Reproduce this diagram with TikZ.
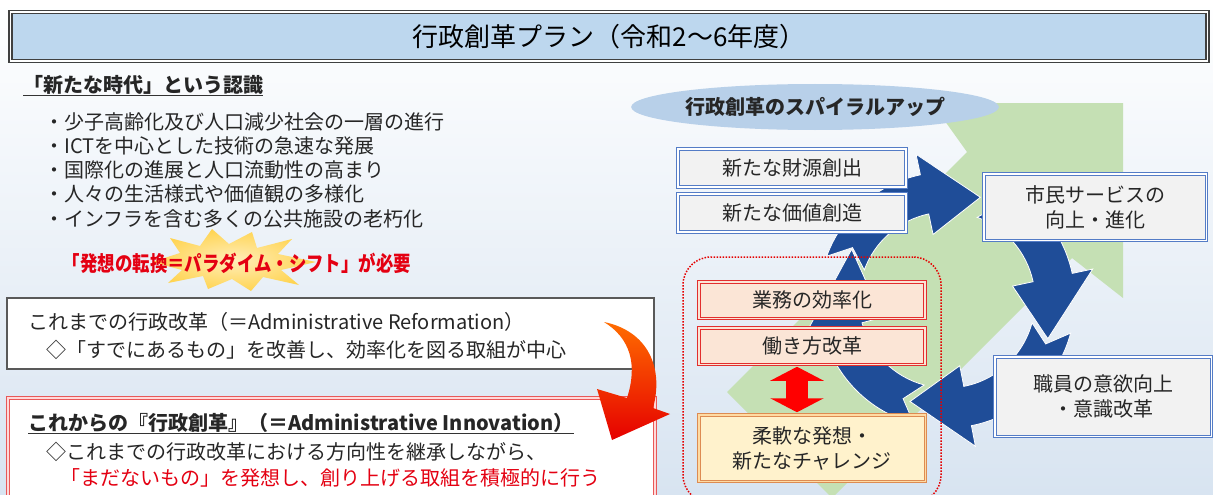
\documentclass[tikz,border=0pt]{standalone}
\usepackage{fontspec}
\setmainfont{Noto Sans CJK JP}
\usepackage{graphicx}
\usetikzlibrary{calc,arrows.meta,shapes.geometric}

\definecolor{titleblue}{RGB}{189,215,238}
\definecolor{ovalblue}{RGB}{184,208,233}
\definecolor{leafgreen}{RGB}{197,224,180}
\definecolor{spiralblue}{RGB}{31,77,152}
\definecolor{boxgray}{RGB}{242,242,242}
\definecolor{boxline}{RGB}{84,124,198}
\definecolor{pinkfill}{RGB}{251,229,214}
\definecolor{redline}{RGB}{226,46,46}
\definecolor{creamfill}{RGB}{255,242,204}
\definecolor{orangeline}{RGB}{221,139,82}
\definecolor{textred}{RGB}{228,0,18}
\definecolor{bgblue}{RGB}{216,228,241}
\definecolor{burst}{RGB}{255,212,82}

\newcommand{\jp}{\fontsize{20pt}{25pt}\selectfont}

\tikzset{
  graybox/.style={draw=boxline, line width=1pt, double=white, double distance=1.5pt,
    fill=boxgray, minimum width=228pt, minimum height=38pt, align=center},
  redbox/.style={draw=redline, line width=1pt, double=pinkfill, double distance=1.5pt,
    fill=pinkfill, minimum width=226pt, minimum height=36.5pt},
  creambox/.style={draw=orangeline, line width=1pt, double=creamfill!80!orange, double distance=1.5pt,
    fill=creamfill, minimum width=226.5pt, minimum height=66.5pt, align=center},
  spiral/.style={fill=spiralblue, draw=white, line width=0.8pt},
  uline/.style={black!80, line width=1pt}
}

\newcommand{\spiralarrow}[3]{%
  \filldraw[spiral] ($(sc)+(#1:128)$) arc[start angle=#1, end angle=#2, radius=128]
    -- ($(sc)+(#2:149)$) -- ($(sc)+(#3:108)$) -- ($(sc)+(#2:67)$) -- ($(sc)+(#2:88)$)
    arc[start angle=#2, end angle=#1, radius=88] -- ($(sc)+(#1+9:108)$) -- cycle;}

\begin{document}
\begin{tikzpicture}[x=1pt,y=-1pt,
  every node/.style={inner sep=0pt, font=\jp, text=black!85}]
\useasboundingbox (0,0) rectangle (1213,495);
\clip (0,0) rectangle (1213,495);
\shade[top color=white, bottom color=bgblue] (0,0) rectangle (1213,495);

\node[draw=black!75, line width=1.4pt, double=white, double distance=1.5pt, fill=titleblue,
  minimum width=1197pt, minimum height=49pt, font=\fontsize{26pt}{30pt}\selectfont, text=black]
  (title) at (609,36.5) {行政創革プラン（令和2〜6年度）};

% left side
\node[anchor=west, font=\jp\bfseries] (era) at (23,85) {「新たな時代」という認識};
\draw[uline] ([yshift=-1pt]era.south west) -- ([yshift=-1pt]era.south east);

\node[anchor=west] (b1) at (44,122) {・少子高齢化及び人口減少社会の一層の進行};
\node[anchor=west] (b2) at (44,146) {・ICTを中心とした技術の急速な発展};
\node[anchor=west] (b3) at (44,170) {・国際化の進展と人口流動性の高まり};
\node[anchor=west] (b4) at (44,194) {・人々の生活様式や価値観の多様化};
\node[anchor=west] (b5) at (44,219) {・インフラを含む多くの公共施設の老朽化};

\shade[inner color=burst!40, outer color=burst] (152,262) -- (180,253) -- (170,238) -- (200,246)
  -- (212,229) -- (229,244) -- (252,232) -- (257,248) -- (292,239) -- (278,254) -- (316,262)
  -- (281,270) -- (299,285) -- (263,277) -- (251,291) -- (232,279) -- (208,289) -- (203,276)
  -- (168,283) -- (182,270) -- cycle;
\node[font=\fontsize{21pt}{24pt}\selectfont\bfseries, text=textred] (shift) at (237,263)
  {\scalebox{0.83}[1]{「発想の転換＝パラダイム・シフト」が必要}};

\node[draw=black!65, line width=1.5pt, fill=white, minimum width=647pt, minimum height=71pt]
  (old) at (330.5,333.5) {};
\node[anchor=west] (oldhead) at (28,322) {これまでの行政改革（＝Administrative Reformation）};
\node[anchor=west] (oldtext) at (46,350) {◇「すでにあるもの」を改善し、効率化を図る取組が中心};

\node[draw=redline!80, line width=1pt, double=red!15, double distance=1.5pt, fill=white,
  minimum width=647pt, minimum height=116pt] (new) at (331.5,456) {};
\node[anchor=west, font=\jp\bfseries] (newhead) at (28,423) {これからの『行政創革』（＝Administrative Innovation）};
\draw[uline] ([yshift=-1pt]newhead.south west) -- ([yshift=-1pt]newhead.south east);
\node[anchor=west] (newtext) at (46,452) {◇これまでの行政改革における方向性を継承しながら、};
\node[anchor=west, text=textred] (newgoal) at (60,478) {「まだないもの」を発想し、創り上げる取組を積極的に行う};

\shade[top color=orange!85!red, bottom color=red!90!black] (604,322)
  .. controls (648,331) and (664,368) .. (653,408) -- (670,414) -- (612,440) -- (597,389)
  -- (627,398) .. controls (638,364) and (630,338) .. (604,322) -- cycle;

% right side
\fill[leafgreen] (1123,103) -- (932,103) -- (967,152) -- (727,392) -- (832,498)
  -- (1072,258) -- (1123,298) -- cycle;

\coordinate (sc) at (947,300);
\spiralarrow{-255}{-195}{-152}
\spiralarrow{-160}{-102}{-72}
\spiralarrow{-70}{-12}{21}
\spiralarrow{15}{79}{110}

\node[ellipse, fill=ovalblue, minimum width=294pt, minimum height=46pt, font=\jp\bfseries]
  (spiral) at (815,107) {行政創革のスパイラルアップ};

\node[graybox] (fund) at (792,168) {新たな財源創出};
\node[graybox] (value) at (792,213) {新たな価値創造};
\node[graybox, minimum width=222.5pt, minimum height=66.5pt] (service) at (1095,207)
  {市民サービスの\\向上・進化};
\node[graybox, minimum width=216.5pt, minimum height=79.5pt] (staff) at (1103,396.5)
  {職員の意欲向上\\・意識改革};

\node[draw=red!90!black, line width=1.5pt, dash pattern=on 1.5pt off 1.5pt, rounded corners=28pt,
  minimum width=258pt, minimum height=246pt] (reform) at (812,380) {};
\node[redbox] (eff) at (812,300) {業務の効率化};
\node[redbox] (work) at (812,346) {働き方改革};
\node[creambox] (flex) at (812,448) {柔軟な発想・\\新たなチャレンジ};
\draw[red, line width=22pt, shorten <=2pt, shorten >=2pt,
  {Triangle[length=14pt,width=53pt]}-{Triangle[length=14pt,width=53pt]}]
  ([xshift=-15pt]work.south) -- ([xshift=-15pt]flex.north);
\end{tikzpicture}
\end{document}
